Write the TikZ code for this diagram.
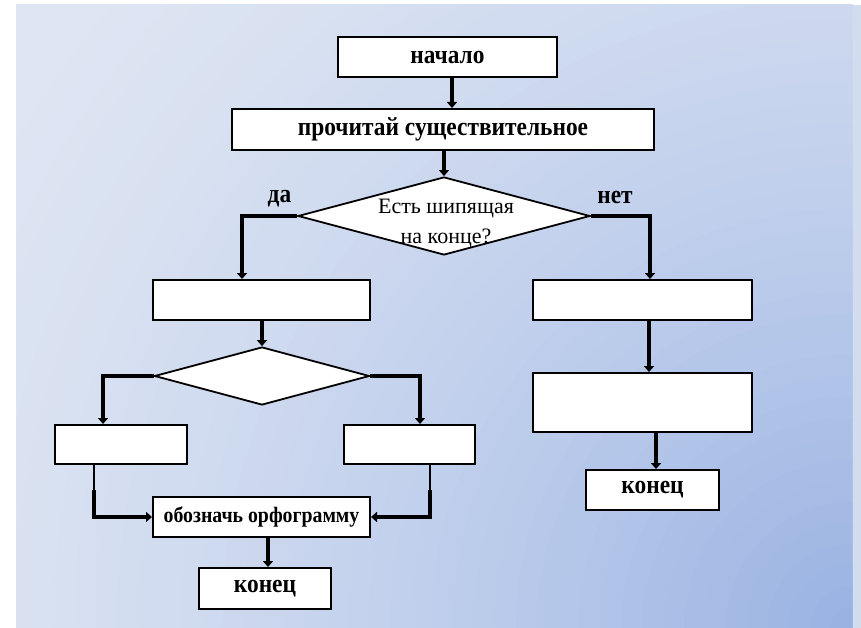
\documentclass[tikz,border=0pt]{standalone}
\usepackage{fontspec}
\setmainfont{Liberation Serif}[FakeStretch=0.9]
\newfontfamily\qfont{Liberation Serif}
\usetikzlibrary{arrows.meta,shapes.geometric}
\definecolor{bglight}{HTML}{DFE6F3}
\definecolor{bgdark}{HTML}{98B1E2}
\definecolor{bgstrip}{HTML}{D2DCEF}
\tikzset{
  box/.style={draw=black, line width=2pt, fill=white, inner sep=0pt, anchor=center},
  dia/.style={draw=black, line width=1.8pt, fill=white, shape=diamond, inner sep=0pt},
  conn/.style={line width=4.5pt, -{Triangle[width=10pt,length=6pt]}},
  thin conn/.style={line width=2.6pt},
  bigtxt/.style={font=\fontsize{26}{28}\selectfont\bfseries},
  marktxt/.style={font=\fontsize{22}{24}\selectfont\bfseries},
  lbltxt/.style={font=\fontsize{26}{28}\selectfont\bfseries, inner sep=0pt},
  qtxt/.style={font=\qfont\fontsize{22}{30}\selectfont, align=center, inner sep=0pt},
}
\begin{document}
\begin{tikzpicture}[x=1pt,y=-1pt]
\useasboundingbox (0,0) rectangle (861,628);
\fill[white] (0,0) rectangle (861,628);
\fill[bgstrip] (852,5) rectangle (861,628);
\fill[bglight] (16,5) rectangle (852,628);
\begin{scope}
  \clip (16,5) rectangle (852,628);
  \foreach \i in {0,...,49} {
    \pgfmathsetmacro\rr{1050*(1-\i/50)}
    \pgfmathsetmacro\pp{100*(\i/50)^1.5}
    \fill[bgdark!\pp!bglight] (852,628) circle (\rr pt);
  }
\end{scope}

% nodes
\node[box, minimum width=219pt, minimum height=40pt, bigtxt] (start) at (447.5,57.5) {начало};
\node[box, minimum width=422pt, minimum height=41pt, bigtxt] (read) at (443,129.5) {прочитай существительное};
\node[dia, minimum width=292pt, minimum height=78pt] (d1) at (444,216) {};
\node[qtxt] (q) at (446,223) {Есть шипящая\\на конце?};
\node[lbltxt] (yes) at (279.5,199) {да};
\node[lbltxt] (no) at (615,198) {нет};

\node[box, minimum width=217pt, minimum height=40pt] (L1) at (261.5,300) {};
\node[dia, minimum width=215pt, minimum height=58pt] (d2) at (262,376) {};
\node[box, minimum width=132pt, minimum height=39pt] (LL) at (121,444.5) {};
\node[box, minimum width=131pt, minimum height=39pt] (LR) at (409.5,444.5) {};
\node[box, minimum width=217pt, minimum height=40pt, marktxt] (mark) at (261.5,517) {обозначь орфограмму};
\node[box, minimum width=132pt, minimum height=41pt, bigtxt] (end1) at (265,588.5) {конец};

\node[box, minimum width=219pt, minimum height=40pt] (R1) at (642.5,300) {};
\node[box, minimum width=219pt, minimum height=59pt] (R2) at (642.5,402.5) {};
\node[box, minimum width=133pt, minimum height=40pt, bigtxt] (end2) at (652.5,490) {конец};

% helper coordinates
\coordinate (a1) at (452,0);
\coordinate (yx) at (242,0);
\coordinate (nx) at (650,0);
\coordinate (llx) at (103,0);
\coordinate (lrx) at (420,0);
\coordinate (llb) at (94,490);
\coordinate (lrb) at (430,490);
\coordinate (mx) at (268,0);
\coordinate (r1x) at (649,0);
\coordinate (r2x) at (656,0);

% connectors
\draw[conn] (start.south -| a1) -- (read.north -| a1);
\draw[conn] (read.south -| d1.north) -- (d1.north);
\draw[conn] (d1.west) -- (d1.west -| yx) -- (L1.north -| yx);
\draw[conn] (d1.east) -- (d1.east -| nx) -- (R1.north -| nx);
\draw[conn] (L1.south -| d2.north) -- (d2.north);
\draw[conn] (d2.west) -- (d2.west -| llx) -- (LL.north -| llx);
\draw[conn] (d2.east) -- (d2.east -| lrx) -- (LR.north -| lrx);
\draw[thin conn] (LL.south -| llb) -- (llb);
\draw[conn] (llb) -- (llb |- mark.west) -- (mark.west);
\draw[thin conn] (LR.south -| lrb) -- (lrb);
\draw[conn] (lrb) -- (lrb |- mark.east) -- (mark.east);
\draw[conn] (mark.south -| mx) -- (end1.north -| mx);
\draw[conn] (R1.south -| r1x) -- (R2.north -| r1x);
\draw[conn] (R2.south -| r2x) -- (end2.north -| r2x);
\end{tikzpicture}
\end{document}
